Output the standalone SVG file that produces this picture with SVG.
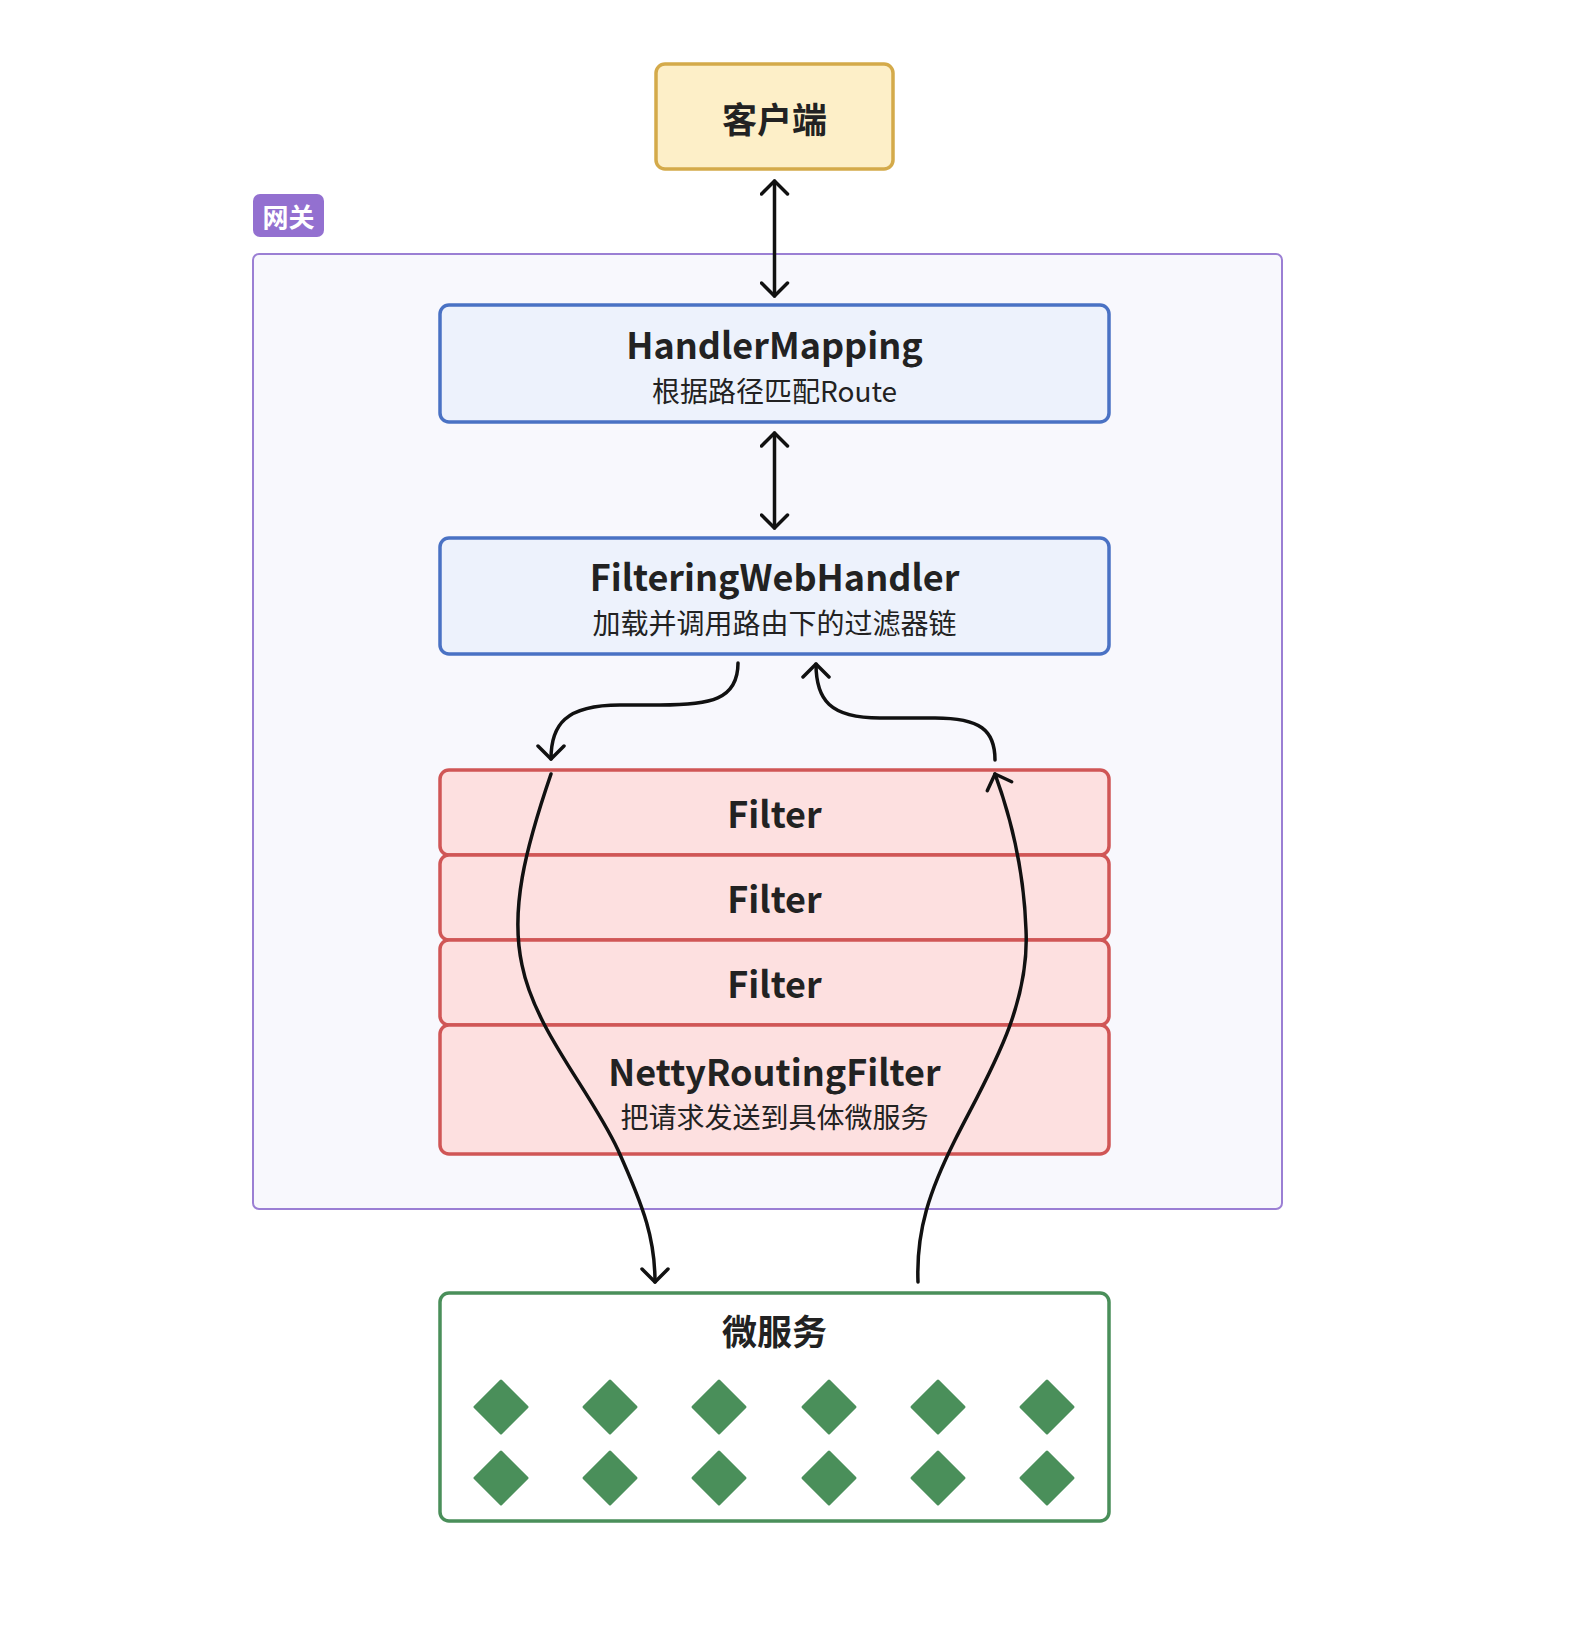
<svg xmlns="http://www.w3.org/2000/svg" width="1570" height="1628" viewBox="0 0 1570 1628">
<defs>
<style>
.t{font-family:"Noto Sans CJK SC","Noto Sans",sans-serif;fill:#222;text-anchor:middle;dominant-baseline:central}
.b{font-weight:700}
.sub{font-size:28px}
.ttl{font-size:36px}
.blue{fill:#edf2fc;stroke:#4a72c4;stroke-width:3.5}
.red{fill:#fde0e0;stroke:#d05656;stroke-width:3.5}
.ln{fill:none;stroke:#111;stroke-width:3.5;stroke-linecap:round}
.dm{fill:#4a8f5a;stroke:#4a8f5a;stroke-width:3;stroke-linejoin:round}
</style>
<marker id="ah" viewBox="0 0 30 30" refX="28" refY="15" markerWidth="30" markerHeight="30" markerUnits="userSpaceOnUse" orient="auto-start-reverse">
<path d="M15,2 L28,15 L15,28" fill="none" stroke="#111" stroke-width="3.5" stroke-linecap="round" stroke-linejoin="round"/>
</marker>
</defs>
<rect width="1570" height="1628" fill="#ffffff"/>

<g id="gateway">
<rect x="253" y="254" width="1029" height="955" rx="6" fill="#f8f8fd" stroke="#9b7fd4" stroke-width="2"/>
<rect x="253" y="194" width="71" height="43" rx="7" fill="#9370d0"/>
<text class="t b" x="288.5" y="215" font-size="26" style="fill:#fff">网关</text>
</g>

<g id="client">
<rect x="656" y="64" width="237" height="105" rx="9" fill="#fdefc8" stroke="#d4aa4a" stroke-width="3.5"/>
<text class="t b" x="774.5" y="117" font-size="35">客户端</text>
</g>

<g id="handlerMapping">
<rect class="blue" x="440" y="305" width="669" height="117" rx="9"/>
<text class="t b ttl" x="774.5" y="343">HandlerMapping</text>
<text class="t sub" x="774.5" y="390">根据路径匹配Route</text>
</g>

<g id="filteringWebHandler">
<rect class="blue" x="440" y="538" width="669" height="116" rx="9"/>
<text class="t b ttl" x="774.5" y="575">FilteringWebHandler</text>
<text class="t sub" x="774.5" y="622">加载并调用路由下的过滤器链</text>
</g>

<g id="filter1">
<rect class="red" x="440" y="770" width="669" height="85" rx="9"/>
<text class="t b ttl" x="774.5" y="812">Filter</text>
</g>
<g id="filter2">
<rect class="red" x="440" y="855" width="669" height="85" rx="9"/>
<text class="t b ttl" x="774.5" y="897">Filter</text>
</g>
<g id="filter3">
<rect class="red" x="440" y="940" width="669" height="85" rx="9"/>
<text class="t b ttl" x="774.5" y="982">Filter</text>
</g>
<g id="nettyRoutingFilter">
<rect class="red" x="440" y="1025" width="669" height="129" rx="9"/>
<text class="t b ttl" x="774.5" y="1070">NettyRoutingFilter</text>
<text class="t sub" x="774.5" y="1116">把请求发送到具体微服务</text>
</g>

<g id="microservices">
<rect x="440" y="1293" width="669" height="228" rx="9" fill="#ffffff" stroke="#4a8f5a" stroke-width="3.5"/>
<text class="t b" x="774.5" y="1329" font-size="35">微服务</text>
<g>
<path class="dm" d="M501,1381 L527,1407 L501,1433 L475,1407 Z"/>
<path class="dm" d="M610,1381 L636,1407 L610,1433 L584,1407 Z"/>
<path class="dm" d="M719,1381 L745,1407 L719,1433 L693,1407 Z"/>
<path class="dm" d="M829,1381 L855,1407 L829,1433 L803,1407 Z"/>
<path class="dm" d="M938,1381 L964,1407 L938,1433 L912,1407 Z"/>
<path class="dm" d="M1047,1381 L1073,1407 L1047,1433 L1021,1407 Z"/>
<path class="dm" d="M501,1452 L527,1478 L501,1504 L475,1478 Z"/>
<path class="dm" d="M610,1452 L636,1478 L610,1504 L584,1478 Z"/>
<path class="dm" d="M719,1452 L745,1478 L719,1504 L693,1478 Z"/>
<path class="dm" d="M829,1452 L855,1478 L829,1504 L803,1478 Z"/>
<path class="dm" d="M938,1452 L964,1478 L938,1504 L912,1478 Z"/>
<path class="dm" d="M1047,1452 L1073,1478 L1047,1504 L1021,1478 Z"/>
</g>
</g>

<g id="connectors">
<path class="ln" d="M774.5,181 L774.5,296" marker-start="url(#ah)" marker-end="url(#ah)"/>
<path class="ln" d="M774.5,433 L774.5,528" marker-start="url(#ah)" marker-end="url(#ah)"/>
<path class="ln" d="M738,663 C738,700 710,705 660,705 L620,705 C565,705 551,725 551,759" marker-end="url(#ah)"/>
<path class="ln" d="M995,760 C995,730 980,718 935,718 L880,718 C830,718 816,700 816,664" marker-end="url(#ah)"/>
<path class="ln" d="M551,774 C525,850 510,910 522,965 C535,1030 590,1090 618,1150 C645,1210 655,1240 655,1282" marker-end="url(#ah)"/>
<path class="ln" d="M918,1282 C916,1230 930,1190 955,1140 C985,1080 1030,1010 1026,930 C1024,870 1010,815 995,774" marker-end="url(#ah)"/>
</g>
</svg>
